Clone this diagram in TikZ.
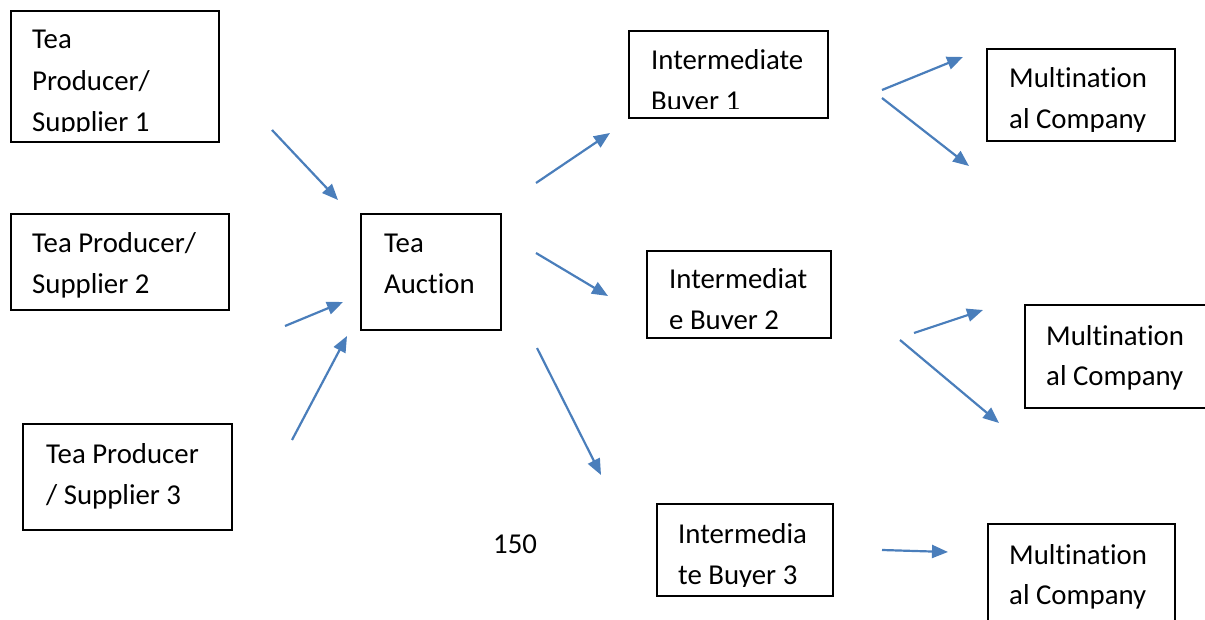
\documentclass[tikz,border=0pt]{standalone}
\usepackage{fontspec}
\setmainfont{Carlito}[Ligatures=NoCommon]
\usetikzlibrary{arrows.meta}
\definecolor{flowblue}{HTML}{4A7EBB}

\tikzset{
  box/.style={draw, line width=1.6pt, inner sep=0pt},
  txt/.style={anchor=base west, inner sep=0pt, font=\fontsize{28.8}{34}\selectfont},
  flow/.style={-{Triangle[length=16pt,width=13pt]}, color=flowblue, line width=2.2pt}
}

\begin{document}
\begin{tikzpicture}[x=1pt,y=-1pt]
\useasboundingbox (0,0) rectangle (1205,620);

% boxes
\node[box, minimum width=208, minimum height=131] (p1) at (115,76.5) {};
\node[box, minimum width=218, minimum height=96] (p2) at (120,262) {};
\node[box, minimum width=209, minimum height=106] (p3) at (127.5,477) {};
\node[box, minimum width=140, minimum height=116] (auc) at (431,272) {};
\node[box, minimum width=199, minimum height=87] (b1) at (728.5,74.5) {};
\node[box, minimum width=184, minimum height=87] (b2) at (739,294.5) {};
\node[box, minimum width=176, minimum height=92] (b3) at (745,550) {};
\node[box, minimum width=188, minimum height=92] (m1) at (1081,95) {};
\node[box, minimum width=187, minimum height=103] (m2) at (1118.5,356.5) {};
\node[box, minimum width=187, minimum height=116] (m3) at (1081.5,582) {};

% texts (some are cut off by the box)
\begin{scope}
\clip (p1.north west) rectangle ([yshift=11pt]p1.south east);
\node[txt] (p1a) at (32,49) {Tea};
\node[txt] (p1b) at (32,91) {Producer/};
\node[txt] (p1c) at (32,132) {Supplier 1};
\end{scope}
\node[txt] (p2a) at (32,253) {Tea Producer/};
\node[txt] (p2b) at (32,294) {Supplier 2};
\node[txt] (p3a) at (46,463) {Tea Producer};
\node[txt] (p3b) at (46,504) {/ Supplier 3};
\node[txt] (auca) at (384,253) {Tea};
\node[txt] (aucb) at (384,294) {Auction};
\begin{scope}
\clip (b1.north west) rectangle ([yshift=10pt]b1.south east);
\node[txt] (b1a) at (651,70) {Intermediate};
\node[txt] (b1b) at (651,111) {Buyer 1};
\end{scope}
\begin{scope}
\clip (b2.north west) rectangle ([yshift=10pt]b2.south east);
\node[txt] (b2a) at (669,289) {Intermediat};
\node[txt] (b2b) at (669,330) {e Buyer 2};
\end{scope}
\begin{scope}
\clip (b3.north west) rectangle ([yshift=10pt]b3.south east);
\node[txt] (b3a) at (678,543) {Intermedia};
\node[txt] (b3b) at (678,584) {te Buyer 3};
\end{scope}
\begin{scope}
\clip (m1.north west) rectangle ([yshift=10pt]m1.south east);
\node[txt] (m1a) at (1009,88) {Multination};
\node[txt] (m1b) at (1009,129) {al Company};
\end{scope}
\node[txt] (m2a) at (1046,345) {Multination};
\node[txt] (m2b) at (1046,385) {al Company};
\node[txt] (m3a) at (1009,564) {Multination};
\node[txt] (m3b) at (1009,604) {al Company};
\node[txt] (page) at (493,553) {150};

% arrow ends
\coordinate (s1) at (272,130);  \coordinate (e1) at (338,200);
\coordinate (s2) at (285,326);  \coordinate (e2) at (343,302);
\coordinate (s3) at (292,440);  \coordinate (e3) at (347,336);
\coordinate (s4) at (536,183);  \coordinate (e4) at (610,133);
\coordinate (s5) at (536,253);  \coordinate (e5) at (608,296);
\coordinate (s6) at (537,348);  \coordinate (e6) at (601,475);
\coordinate (s7) at (882,90);   \coordinate (e7) at (963,57);
\coordinate (s8) at (882,98);   \coordinate (e8) at (969,166);
\coordinate (s9) at (914,333);  \coordinate (e9) at (983,310);
\coordinate (s10) at (900,340); \coordinate (e10) at (999,423);
\coordinate (s11) at (882,550); \coordinate (e11) at (948,552);

\foreach \i in {1,...,11}
  \draw[flow] (s\i) -- (e\i);
\end{tikzpicture}
\end{document}
